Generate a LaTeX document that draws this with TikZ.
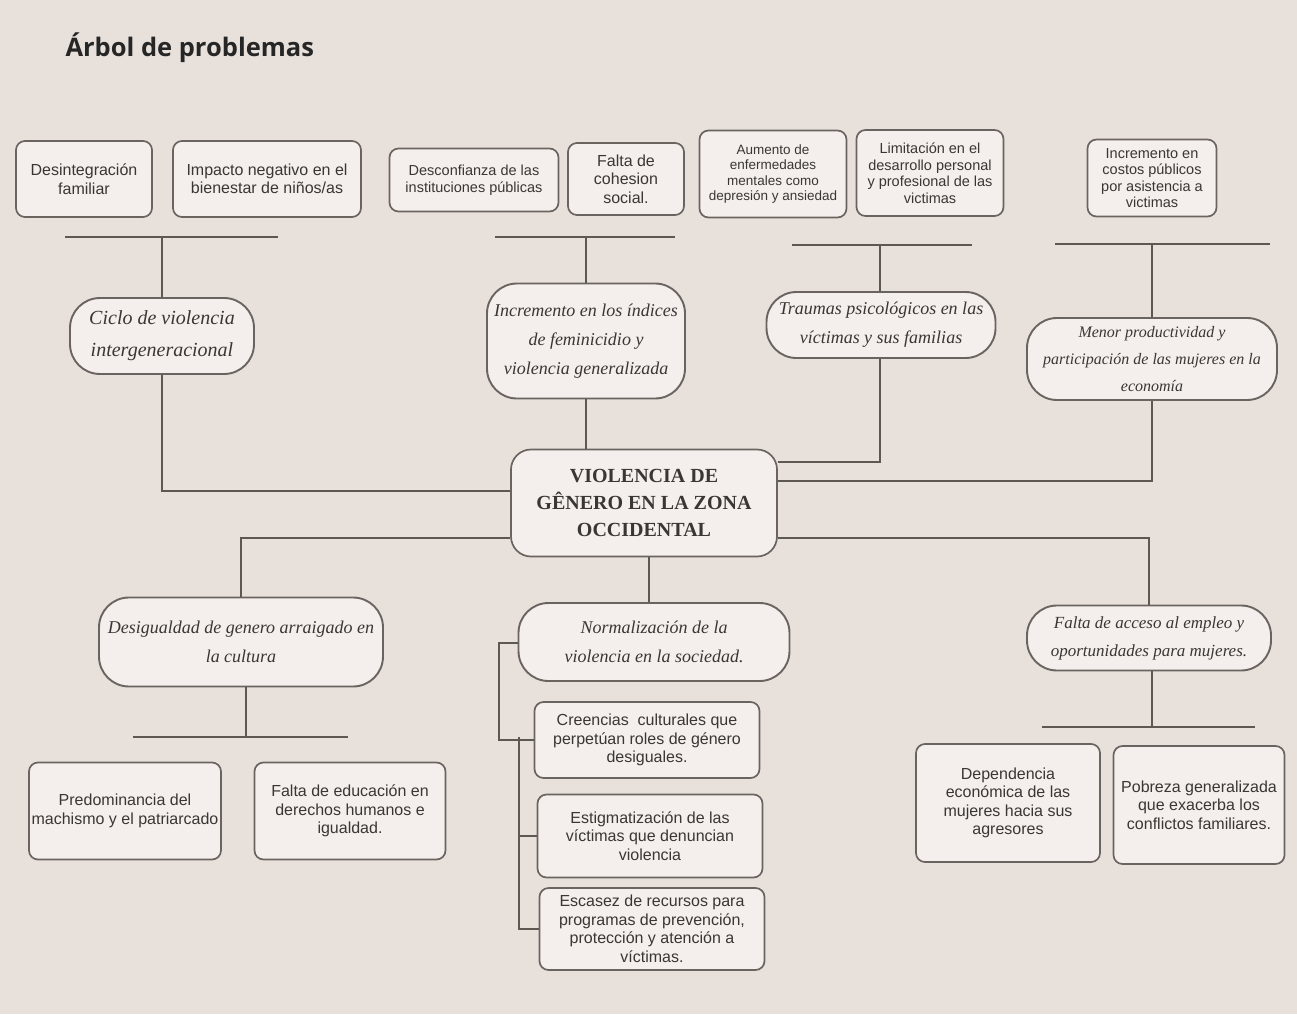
\documentclass[tikz,border=0pt]{standalone}
\usepackage{fontspec}
\newfontfamily\boxfont{Liberation Sans}
\newfontfamily\titlefont{Open Sans}
\newfontfamily\centfont{Liberation Serif}
\definecolor{bg}{HTML}{E8E1DB}
\definecolor{boxfill}{HTML}{F4EFEC}
\definecolor{bord}{HTML}{6A6460}
\definecolor{txt}{HTML}{3A3633}
\definecolor{conn}{HTML}{5E5855}
\tikzset{
  sbox/.style={draw=bord, fill=boxfill, line width=1.7pt, rounded corners=9pt, align=center, text=txt, inner sep=1pt, font=\boxfont\fontsize{16}{18.5}\selectfont},
  smallbox/.style={sbox, font=\boxfont\fontsize{14.5}{16.5}\selectfont},
  ibox/.style={draw=bord, fill=boxfill, line width=1.9pt, rounded corners=30pt, align=center, text=txt, inner sep=1pt, font=\centfont\itshape\fontsize{18}{29}\selectfont},
  cbox/.style={draw=bord, fill=boxfill, line width=1.7pt, rounded corners=20pt, align=center, text=txt, inner sep=1pt, font=\centfont\bfseries\fontsize{20}{27}\selectfont},
  link/.style={draw=conn, line width=1.4pt},
}
\begin{document}
\begin{tikzpicture}[x=1pt,y=-1pt]
\fill[bg] (0,0) rectangle (1297,1014);
\useasboundingbox (0,0) rectangle (1297,1014);

\node[anchor=west, font=\titlefont\bfseries\fontsize{25.5}{30}\selectfont, text=black!85] (title) at (62,48) {Árbol de problemas};

% top effects
\node[sbox, minimum width=136pt, minimum height=76pt] (e1) at (84,179) {Desintegración\\familiar};
\node[sbox, minimum width=188pt, minimum height=76pt] (e2) at (267,179) {Impacto negativo en el\\bienestar de niños/as};
\node[smallbox, font=\boxfont\fontsize{14.5}{17}\selectfont, minimum width=169pt, minimum height=63pt] (e3) at (474,180) {Desconfianza de las\\instituciones públicas};
\node[sbox, minimum width=116pt, minimum height=72pt] (e4) at (626,179) {Falta de\\cohesion\\social.};
\node[smallbox, font=\boxfont\fontsize{13.5}{15.5}\selectfont, minimum width=147pt, minimum height=87pt] (e5) at (773,174) {Aumento de\\enfermedades\\mentales como\\depresión y ansiedad};
\node[smallbox, minimum width=147pt, minimum height=86pt] (e6) at (930,173) {Limitación en el\\desarrollo personal\\y profesional de las\\victimas};
\node[smallbox, minimum width=129pt, minimum height=77pt] (e7) at (1152,178) {Incremento en\\costos públicos\\por asistencia a\\victimas};

% bars under the effects
\coordinate (b1l) at (65,237); \coordinate (b1r) at (278,237);
\coordinate (b2l) at (495,237); \coordinate (b2r) at (675,237);
\coordinate (b3l) at (792,245); \coordinate (b3r) at (972,245);
\coordinate (b4l) at (1055,244); \coordinate (b4r) at (1270,244);
\draw[link] (b1l) -- (b1r);
\draw[link] (b2l) -- (b2r);
\draw[link] (b3l) -- (b3r);
\draw[link] (b4l) -- (b4r);

% middle effects
\node[ibox, font=\centfont\itshape\fontsize{20}{32}\selectfont, minimum width=184pt, minimum height=76pt] (m1) at (162,336) {Ciclo de violencia\\intergeneracional};
\node[ibox, minimum width=198pt, minimum height=115pt] (m2) at (586,341) {Incremento en los índices\\de feminicidio y\\violencia generalizada};
\node[ibox, minimum width=229pt, minimum height=66pt] (m3) at (881,325) {Traumas psicológicos en las\\víctimas y sus familias};
\node[ibox, font=\centfont\itshape\fontsize{16}{27}\selectfont, minimum width=250pt, minimum height=82pt] (m4) at (1152,359) {Menor productividad y\\participación de las mujeres en la\\economía};

\draw[link] (m1.north) -- (m1.north |- b1l);
\draw[link] (m2.north) -- (m2.north |- b2l);
\coordinate (t3) at (880,358);
\draw[link] (t3 |- m3.north) -- (t3 |- b3l);
\draw[link] (m4.north) -- (m4.north |- b4l);

% central problem
\node[cbox, minimum width=266pt, minimum height=107pt] (c) at (644,503) {VIOLENCIA DE\\GÊNERO EN LA ZONA\\OCCIDENTAL};

\coordinate (j1) at (162,491);
\coordinate (j3) at (880,462);
\coordinate (j4) at (1152,481);
\coordinate (j5) at (0,538);
\draw[link] (m1.south) |- (c.west |- j1);
\draw[link] (m2.south) -- (m2.south |- c.north);
\draw[link] (t3 |- m3.south) |- (c.east |- j3);
\draw[link] (m4.south) |- (c.east |- j4);

% lower causes
\node[ibox, minimum width=284pt, minimum height=89pt] (d1) at (241,642) {Desigualdad de genero arraigado en\\la cultura};
\node[ibox, minimum width=271pt, minimum height=78pt] (d2) at (654,642) {Normalización de la\\violencia en la sociedad.};
\node[ibox, font=\centfont\itshape\fontsize{17}{28}\selectfont, minimum width=244pt, minimum height=65pt] (d3) at (1149,638) {Falta de acceso al empleo y\\oportunidades para mujeres.};

\draw[link] (c.west |- j5) -| (d1.north);
\draw[link] (c.east |- j5) -| (d3.north);
\coordinate (t2) at (649,557);
\draw[link] (t2 |- c.south) -- (t2 |- d2.north);

% root causes left
\coordinate (b5l) at (133,737); \coordinate (b5r) at (348,737);
\coordinate (t5) at (246,687);
\draw[link] (b5l) -- (b5r);
\draw[link] (t5 |- d1.south) -- (t5 |- b5l);
\node[sbox, minimum width=192pt, minimum height=97pt] (r1) at (125,811) {Predominancia del\\machismo y el patriarcado};
\node[sbox, minimum width=191pt, minimum height=97pt] (r2) at (350,811) {Falta de educación en\\derechos humanos e\\igualdad.};

% root causes right
\coordinate (b6l) at (1042,727); \coordinate (b6r) at (1255,727);
\coordinate (t6) at (1152,670);
\draw[link] (b6l) -- (b6r);
\draw[link] (t6 |- d3.south) -- (t6 |- b6l);
\node[sbox, minimum width=184pt, minimum height=118pt] (r6) at (1008,803) {Dependencia\\económica de las\\mujeres hacia sus\\agresores};
\node[sbox, minimum width=171pt, minimum height=118pt] (r7) at (1199,805) {Pobreza generalizada\\que exacerba los\\conflictos familiares.};

% root causes center
\node[sbox, minimum width=225pt, minimum height=76pt] (r3) at (647,740) {Creencias\ \ culturales que\\perpetúan roles de género\\desiguales.};
\node[sbox, minimum width=225pt, minimum height=83pt] (r4) at (650,836) {Estigmatización de las\\víctimas que denuncian\\violencia};
\node[sbox, minimum width=225pt, minimum height=82pt] (r5) at (652,929) {Escasez de recursos para\\programas de prevención,\\protección y atención a\\víctimas.};

\coordinate (k1) at (499,643);
\coordinate (k2) at (519,737);
\draw[link] (d2.west |- k1) -| (k1 |- r3.west) -- (r3.west);
\draw[link] (k2) |- (r5.west);
\draw[link] (k2 |- r4.west) -- (r4.west);
\end{tikzpicture}
\end{document}
